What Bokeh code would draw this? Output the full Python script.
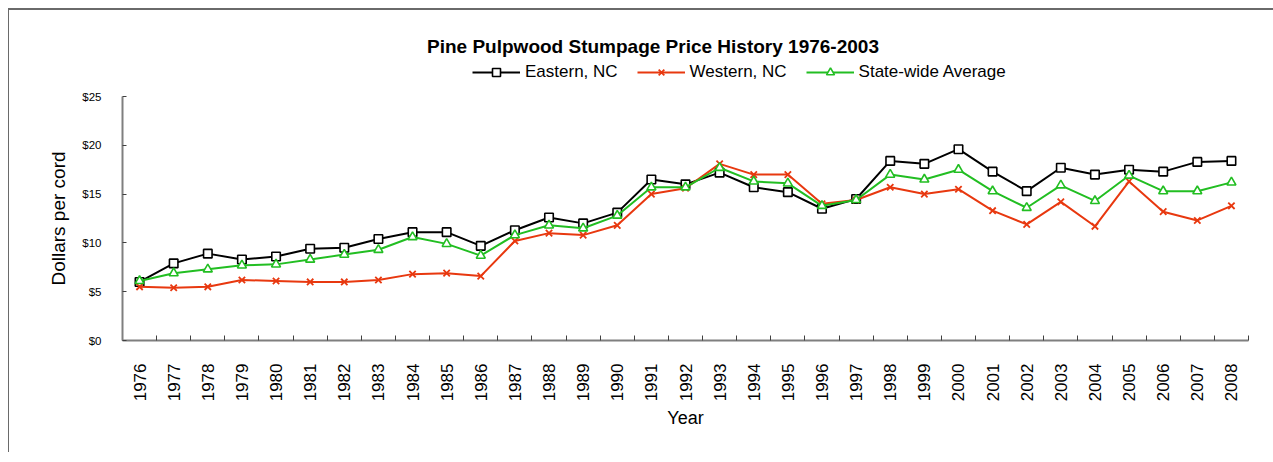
import math
from bokeh.plotting import figure
from bokeh.layouts import column
from bokeh.models import (Range1d, FixedTicker, NumeralTickFormatter, Label,
                          Legend, LegendItem)
from bokeh.embed import file_html
from bokeh.resources import INLINE

title_text = "Pine Pulpwood Stumpage Price History 1976-2003"
y_label = "Dollars per cord"
x_label = "Year"

years = list(range(1976, 2009))
eastern = [6.0, 7.9, 8.9, 8.3, 8.6, 9.4, 9.5, 10.4, 11.1, 11.1, 9.7, 11.3, 12.6,
           12.0, 13.1, 16.5, 16.0, 17.2, 15.7, 15.2, 13.5, 14.5, 18.4, 18.1,
           19.6, 17.3, 15.3, 17.7, 17.0, 17.5, 17.3, 18.3, 18.4]
western = [5.5, 5.4, 5.5, 6.2, 6.1, 6.0, 6.0, 6.2, 6.8, 6.9, 6.6, 10.2, 11.0,
           10.8, 11.8, 15.0, 15.6, 18.1, 17.0, 17.0, 14.0, 14.4, 15.7, 15.0,
           15.5, 13.3, 11.9, 14.2, 11.7, 16.3, 13.2, 12.3, 13.8]
statewide = [6.1, 6.9, 7.3, 7.7, 7.8, 8.3, 8.8, 9.3, 10.6, 9.9, 8.7, 10.8, 11.8,
             11.5, 12.8, 15.7, 15.7, 17.7, 16.3, 16.1, 13.8, 14.4, 17.0, 16.5,
             17.5, 15.3, 13.6, 15.9, 14.3, 16.9, 15.3, 15.3, 16.2]
series_names = ["Eastern, NC", "Western, NC", "State-wide Average"]
y_ticks = [0, 5, 10, 15, 20, 25]

FONT = "Liberation Sans"
AXIS_GRAY = "#7f7f7f"
BLACK = "#000000"
RED = "#E8380F"
GREEN = "#22BE22"
FW = 1126
LB = 113
RB = 25
HEAD_H = 80

styles_line = [dict(line_color=BLACK, line_width=2),
               dict(line_color=RED, line_width=2),
               dict(line_color=GREEN, line_width=2)]
styles_mark = [dict(marker="square", size=8.5, line_color=BLACK, line_width=1.6,
                    fill_color="white"),
               dict(marker="x", size=9, line_color=RED, line_width=1.8),
               dict(marker="triangle", size=9, line_color=GREEN, line_width=1.6,
                    fill_color="white")]
all_series = [eastern, western, statewide]

# ---- header: title + legend (frame aligned with the main chart's frame) ----
head = figure(frame_width=FW, frame_height=HEAD_H,
              min_border_left=LB, min_border_right=RB,
              min_border_top=0, min_border_bottom=0,
              x_range=Range1d(0, FW), y_range=Range1d(0, HEAD_H),
              x_axis_location=None, y_axis_location=None,
              output_backend="svg", toolbar_location=None,
              background_fill_color="white", border_fill_color="white")
head.outline_line_color = None
head.xgrid.visible = False
head.ygrid.visible = False

items = []
for name, vals, ls, ms in zip(series_names, all_series, styles_line, styles_mark):
    # same series, far outside this header's ranges: only the legend glyph shows
    lr = head.line(years, vals, **ls)
    mr = head.scatter(years, vals, **ms)
    items.append(LegendItem(label=name, renderers=[lr, mr]))

legend = Legend(items=items, orientation="horizontal", location=(350, 8),
                label_text_font=FONT, label_text_font_size="17px",
                label_text_color=BLACK, glyph_width=48, glyph_height=20,
                label_standoff=5, spacing=19, padding=0, margin=0,
                border_line_color=None, background_fill_alpha=0)
head.add_layout(legend, "center")

head.add_layout(Label(x=530.5, y=44, text=title_text, text_font=FONT,
                      text_font_style="bold", text_font_size="19px",
                      text_align="center", text_baseline="alphabetic",
                      text_color=BLACK))

# ---- main chart ----
p = figure(frame_width=FW, frame_height=244,
           min_border_left=LB, min_border_top=6,
           min_border_right=RB, min_border_bottom=112,
           x_range=Range1d(years[0] - 0.5, years[-1] + 0.5),
           y_range=Range1d(y_ticks[0], y_ticks[-1]),
           output_backend="svg", toolbar_location=None,
           background_fill_color="white", border_fill_color="white")
p.outline_line_color = None
p.xgrid.visible = False
p.ygrid.visible = False

xa = p.xaxis[0]
xa.ticker = FixedTicker(ticks=years,
                        minor_ticks=[y - 0.5 for y in years] + [years[-1] + 0.5])
xa.major_tick_in = 0
xa.major_tick_out = 0
xa.minor_tick_in = 5
xa.minor_tick_out = 0
xa.minor_tick_line_color = "#404040"
xa.minor_tick_line_width = 1
xa.axis_line_color = AXIS_GRAY
xa.axis_line_width = 2
xa.major_label_orientation = math.pi / 2
xa.major_label_standoff = 23
xa.major_label_text_font = FONT
xa.major_label_text_font_size = "17px"
xa.major_label_text_color = BLACK
xa.axis_label = x_label
xa.axis_label_text_font = FONT
xa.axis_label_text_font_style = "normal"
xa.axis_label_text_font_size = "18px"
xa.axis_label_text_color = BLACK
xa.axis_label_standoff = 4

ya = p.yaxis[0]
ya.ticker = FixedTicker(ticks=y_ticks)
ya.formatter = NumeralTickFormatter(format="$0")
ya.major_tick_in = 4
ya.major_tick_out = 0
ya.major_tick_line_color = "#404040"
ya.minor_tick_in = 0
ya.minor_tick_out = 0
ya.axis_line_color = AXIS_GRAY
ya.axis_line_width = 2
ya.major_label_standoff = 21
ya.major_label_text_font = FONT
ya.major_label_text_font_size = "11.5px"
ya.major_label_text_color = BLACK
ya.axis_label = y_label
ya.axis_label_text_font = FONT
ya.axis_label_text_font_style = "normal"
ya.axis_label_text_font_size = "19px"
ya.axis_label_text_color = BLACK
ya.axis_label_standoff = 10

for vals, ls, ms in zip(all_series, styles_line, styles_mark):
    p.line(years, vals, **ls)
    p.scatter(years, vals, **ms)

layout = column(head, p, spacing=0,
                styles={"margin-left": "8px", "margin-top": "8px",
                        "border-top": "2px solid #6a6a6a",
                        "border-left": "1px solid #6a6a6a"})

open("out.html", "w").write(file_html(layout, INLINE))
